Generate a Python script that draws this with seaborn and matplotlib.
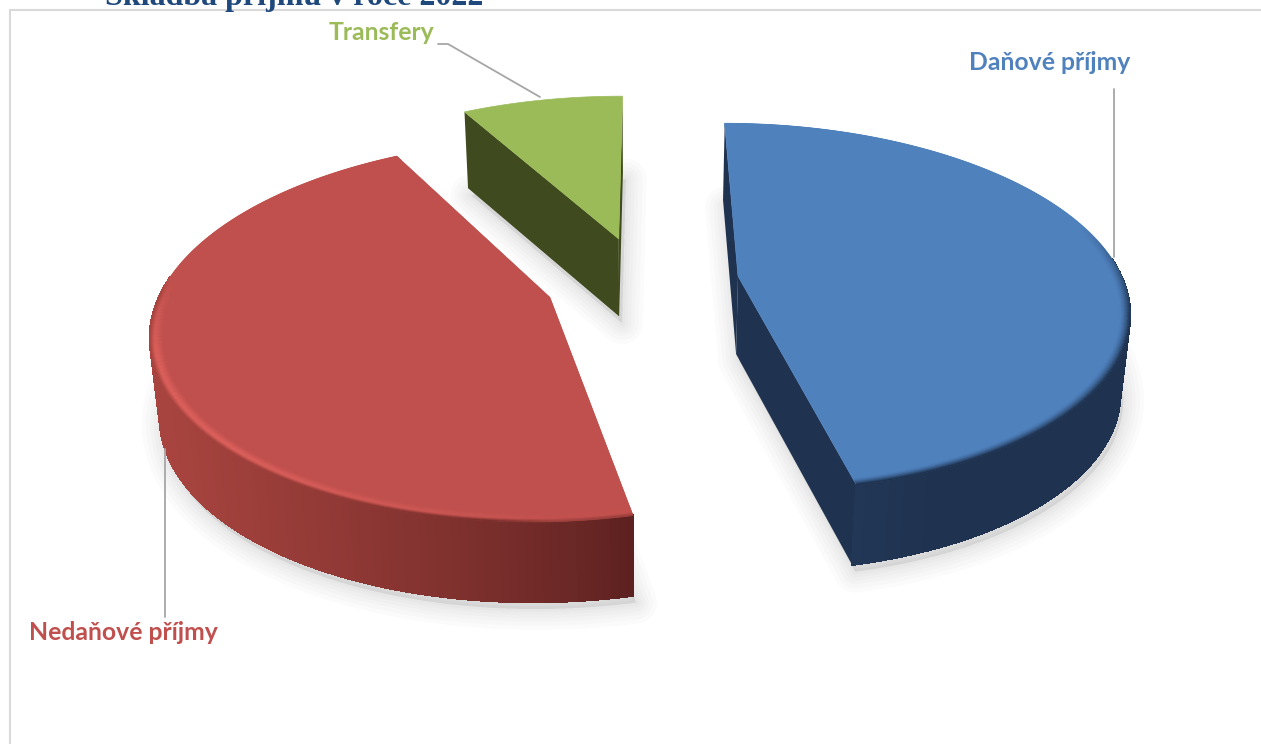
import numpy as np
import matplotlib
matplotlib.use("Agg")
import matplotlib.pyplot as plt
from matplotlib.patches import Polygon, Rectangle
from matplotlib.collections import PolyCollection, LineCollection
import seaborn as sns

# ---- data ----
categories = ["Daňové příjmy", "Nedaňové příjmy", "Transfery"]
shares = [46.5, 45.4, 8.1]
title = "Skladba příjmů v roce 2022"

# ---- style ----
top_colors = ["#4f81bd", "#c0504d", "#9bbb59"]
wall_near = ["#1f3350", "#5c2120", "#3f4a1e"]
wall_far = ["#223756", "#a8443f", "#3f4a1e"]
rim_colors = ["#1f3350", "#dc605c", "#9bbb59"]
label_colors = ["#4f81bd", "#c0504d", "#9bbb59"]

sns.set_theme(style="white")
plt.rcParams["font.family"] = ["Lato", "DejaVu Sans"]

W, H = 1261, 744
fig = plt.figure(figsize=(W / 100, H / 100), dpi=100)
ax = fig.add_axes([0, 0, 1, 1])
ax.set_xlim(0, W)
ax.set_ylim(H, 0)
ax.axis("off")
sns.despine(ax=ax, left=True, bottom=True)

# projection of the pie plane
CX, CY, RX, RY, K = 642, 281, 385, 180, 0.17
DROP, SHRINK, YSTRETCH, EXPLODE = 78, 0.98, 1.01, 0.252
START = 0.1


def project(u, v, bottom=False):
    w = 1 + K * v
    sx = RX * (SHRINK if bottom else 1)
    sy = RY * (YSTRETCH if bottom else 1)
    return np.column_stack([CX + sx * u / w, CY + (DROP if bottom else 0) - sy * v / w])


def mix(a, b, t):
    a, b = np.array(matplotlib.colors.to_rgb(a)), np.array(matplotlib.colors.to_rgb(b))
    return tuple(a + (b - a) * t)


# title, then chart area covering its lower part
fig.text(105 / W, 1 - 4.5 / H, title, family="Liberation Serif", weight="bold",
         fontsize=23, color="#1f497d", ha="left", va="baseline")
ax.add_patch(Rectangle((10, 10), W, H, fc="white", ec="#d9d9d9", lw=1.5, zorder=1))

fracs = np.array(shares) / sum(shares)
edges = START + np.concatenate([[0], np.cumsum(fracs)]) * 360

for i in [2, 0, 1]:
    a0, a1 = np.radians(edges[i]), np.radians(edges[i + 1])
    mid = (a0 + a1) / 2
    ou, ov = EXPLODE * np.sin(mid), EXPLODE * np.cos(mid)
    th = np.linspace(a0, a1, 160)
    uu, vv = ou + np.sin(th), ov + np.cos(th)

    top_arc = project(uu, vv)
    bot_arc = project(uu, vv, True)
    apex_t = project(np.array([ou]), np.array([ov]))
    apex_b = project(np.array([ou]), np.array([ov]), True)

    # soft shadow under the slice
    shadow = np.vstack([apex_b, bot_arc]) + np.array([3, 7])
    for lw in [30, 24, 18, 13, 8, 4]:
        ax.add_patch(Polygon(shadow, closed=True, fc=(0, 0, 0, 0.012), ec=(0, 0, 0, 0.016),
                             lw=lw, joinstyle="round", zorder=2))

    # cut walls
    for arc_t, arc_b in [(top_arc[0], bot_arc[0]), (top_arc[-1], bot_arc[-1])]:
        ax.add_patch(Polygon([apex_t[0], arc_t, arc_b, apex_b[0]], closed=True,
                             fc=wall_near[i] if i != 1 else wall_far[i],
                             ec="none", zorder=3 + i))

    # outer wall with a gradient along the arc (only the side facing the viewer)
    if i == 1:
        g = np.clip((632 - top_arc[:-1, 0]) / 470, 0, 1) ** 0.8
        cols = [mix(wall_near[1], wall_far[1], float(x)) for x in g]
    elif i == 0:
        g = np.clip((top_arc[:-1, 0] - 852) / 90, 0, 1)
        cols = [mix(wall_far[0], wall_near[0], float(x)) for x in g]
    else:
        cols = [matplotlib.colors.to_rgb(wall_near[2])] * (len(th) - 1)
    near = np.cos(th[:-1]) < 0.1
    quads = [[top_arc[j], top_arc[j + 1], bot_arc[j + 1], bot_arc[j]]
             for j in range(len(th) - 1) if near[j]]
    qcols = [c for c, n in zip(cols, near) if n]
    if quads:
        ax.add_collection(PolyCollection(quads, facecolors=qcols, edgecolors=qcols, lw=1.0,
                                         antialiaseds=False, zorder=3 + i))

    # top face
    ax.add_patch(Polygon(np.vstack([apex_t, top_arc]), closed=True, fc=top_colors[i],
                         ec=top_colors[i], lw=0.5, zorder=4 + i))

    # bevel along the near rim
    deg = np.degrees(th[:-1])
    if i == 0:
        strength = np.clip((0.3 - np.cos(th[:-1])) / 0.5, 0, 1)
        for t in np.linspace(0, 1, 14):
            r = 0.975 + 0.025 * t
            arc = project(ou + r * np.sin(th), ov + r * np.cos(th))
            segs = np.stack([arc[:-1], arc[1:]], axis=1)
            cc = [mix(top_colors[0], rim_colors[0], s * t ** 1.6) for s in strength]
            ax.add_collection(LineCollection(segs, colors=cc, lw=1.0, zorder=4 + i))
    elif i == 1:
        strength = np.clip((0.1 - np.cos(th[:-1])) / 0.4, 0, 1) * np.clip((deg - 172) / 50, 0.1, 1)
        for t in np.linspace(0, 1, 16):
            r = 0.965 + 0.035 * t
            arc = project(ou + r * np.sin(th), ov + r * np.cos(th))
            segs = np.stack([arc[:-1], arc[1:]], axis=1)
            if t < 0.7:
                prof = np.sin(np.pi * t / 1.4) ** 2
                cc = [mix(top_colors[1], rim_colors[1], s * prof) for s in strength]
            else:
                blend = (t - 0.7) / 0.3
                cc = [mix(mix(top_colors[1], rim_colors[1], s), w, blend * min(1.0, s * 4))
                      for s, w in zip(strength, cols)]
            ax.add_collection(LineCollection(segs, colors=cc, lw=1.0, zorder=4 + i))

# leader lines
ax.plot([438, 448, 540], [44, 44, 97], color="#a6a6a6", lw=1.3, zorder=9)
ax.plot([1114, 1114], [89, 257], color="#a6a6a6", lw=1.3, zorder=9)
ax.plot([165, 165], [449, 617], color="#a6a6a6", lw=1.3, zorder=9)

# labels
label_pos = [(1050, 62), (123, 632), (381, 32)]
for name, col, (x, y) in zip(categories, label_colors, label_pos):
    ax.text(x, y, name, color=col, weight="bold", fontsize=17.8, ha="center", va="center", zorder=10)

fig.savefig("out.png", dpi=100)
